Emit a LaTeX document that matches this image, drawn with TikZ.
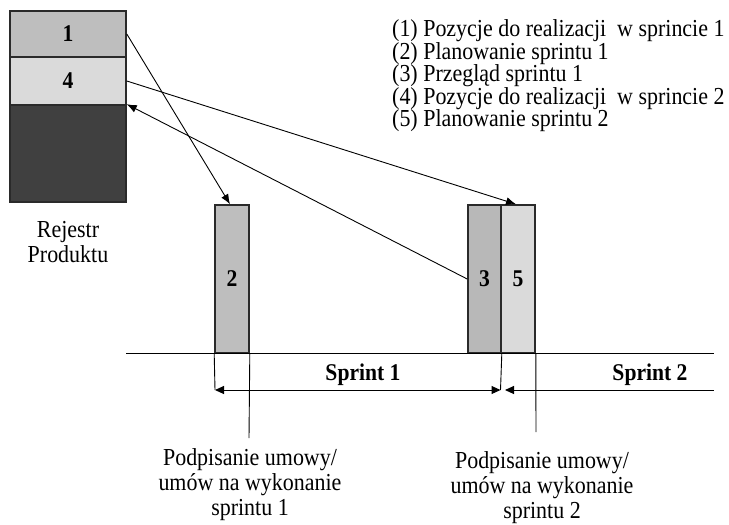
\documentclass[tikz,border=0pt]{standalone}
\usepackage{fontspec}
\setmainfont[FakeStretch=0.9]{Liberation Serif}
\usetikzlibrary{arrows.meta}
\definecolor{midgray}{HTML}{BEBEBE}
\definecolor{darkmid}{HTML}{B8B8B8}
\definecolor{lightgray}{HTML}{DADADA}
\definecolor{backlog}{HTML}{404040}
\definecolor{edge}{HTML}{2A2A2A}
\begin{document}
\begin{tikzpicture}[x=1pt,y=-1pt,
  txt/.style={font=\fontsize{24.4}{25}\selectfont, inner sep=0pt},
  legend/.style={font=\fontsize{24.4}{22.5}\selectfont, inner sep=0pt, align=left, anchor=north west},
  block/.style={draw=edge, line width=1.6pt, inner sep=0pt,
    font=\fontsize{24}{25}\selectfont\bfseries},
  link/.style={line width=0.9pt, -{Latex[length=10pt,width=8pt]}},
  guide/.style={line width=0.9pt},
  dim/.style={line width=1pt, {Triangle[length=9pt,width=8pt]}-{Triangle[length=9pt,width=8pt]}},
  dimleft/.style={line width=1pt, {Triangle[length=9pt,width=8pt]}-},
]
\useasboundingbox (0,0) rectangle (729,525);

% product backlog stack
\node[block, fill=midgray, minimum width=116pt, minimum height=46pt] (reg1) at (68,34) {1};
\node[block, fill=lightgray, minimum width=116pt, minimum height=48pt] (reg4) at (68,81) {4};
\node[block, fill=backlog, minimum width=116pt, minimum height=97pt] (regd) at (68,153.5) {};
\node[txt, align=center, anchor=north] (reglab) at (68,221.5) {Rejestr\\Produktu};

% sprint events
\node[block, fill=midgray, minimum width=34pt, minimum height=148pt] (box2) at (232,279) {2};
\node[block, fill=darkmid, minimum width=33pt, minimum height=148pt] (box3) at (484.5,279) {\raisebox{-6pt}{3}};
\node[block, fill=lightgray, minimum width=34pt, minimum height=148pt] (box5) at (518,279) {\raisebox{-6pt}{5}};

% time line and dimension marks
\coordinate (tlL) at (126,353);
\coordinate (tlR) at (714,353);
\coordinate (s1L) at (215,390);
\coordinate (s1R) at (500.5,390);
\coordinate (s2L) at (505,390);
\coordinate (s2R) at (714,390);
\coordinate (g2) at (249,438);
\coordinate (g5) at (536,432);

\draw[guide] (tlL) -- (tlR);
\draw[guide] (box2.south west) -- (s1L);
\draw[guide] (box2.south east) -- (g2);
\draw[guide] (box3.south east) -- (s1R);
\draw[guide] (box5.south east) -- (g5);
\draw[dim] (s1L) -- (s1R);
\draw[dimleft] (s2L) -- (s2R);

\node[txt, font=\fontsize{24}{25}\selectfont\bfseries, anchor=base] (sp1) at (363,380) {Sprint 1};
\node[txt, font=\fontsize{24}{25}\selectfont\bfseries, anchor=base] (sp2) at (650,380) {Sprint 2};

% flows between the backlog and the sprint events
\draw[link] (reg1.east) -- ([xshift=-2pt]box2.north);
\draw[link] (reg4.east) -- ([xshift=-2pt]box5.north);
\draw[link] (box3.west) -- (regd.north east);

% legend
\node[legend] (leg) at (392,19.5) {(1) Pozycje do realizacji\ \ w sprincie 1\\
(2) Planowanie sprintu 1\\
(3) Przegląd sprintu 1\\
(4) Pozycje do realizacji\ \ w sprincie 2\\
(5) Planowanie sprintu 2};

% contract signing notes
\node[txt, align=center, anchor=north] (sign1) at (250,448) {Podpisanie umowy/\\umów na wykonanie\\sprintu 1};
\node[txt, align=center, anchor=north] (sign2) at (542,451) {Podpisanie umowy/\\umów na wykonanie\\sprintu 2};
\end{tikzpicture}
\end{document}
